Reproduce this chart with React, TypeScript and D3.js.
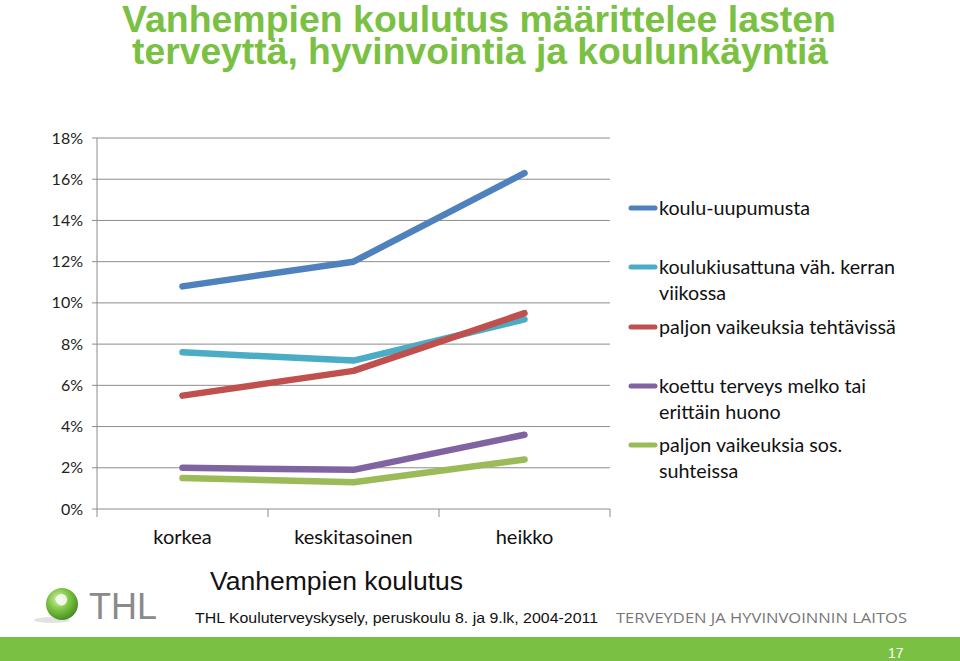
import React from "react";
import * as d3 from "d3";

const categories = ["korkea", "keskitasoinen", "heikko"];
const seriesNames = [
  ["koulu-uupumusta"],
  ["koulukiusattuna väh. kerran", "viikossa"],
  ["paljon vaikeuksia tehtävissä"],
  ["koettu terveys melko tai", "erittäin huono"],
  ["paljon vaikeuksia sos.", "suhteissa"],
];
const seriesColors = ["#4F81BD", "#4BACC6", "#C0504D", "#8064A2", "#9BBB59"];
const koulUupumus = [10.8, 12.0, 16.3];
const kiusattu = [7.6, 7.2, 9.2];
const tehtavat = [5.5, 6.7, 9.5];
const terveys = [2.0, 1.9, 3.6];
const sosSuhteet = [1.5, 1.3, 2.4];
const seriesValues = [koulUupumus, kiusattu, tehtavat, terveys, sosSuhteet];
const yTicks = [0, 2, 4, 6, 8, 10, 12, 14, 16, 18];
const legendY = [208, 267, 327, 386, 445];

const W = 960;
const H = 661;

export default function App() {
  const x = d3.scaleBand<string>().domain(categories).range([97, 610]);
  const y = d3.scaleLinear().domain([0, 18]).range([509, 138]);
  const cx = (i: number) => (x(categories[i]) as number) + x.bandwidth() / 2;
  const line = d3
    .line<number>()
    .x((_, i) => cx(i))
    .y((d) => y(d));
  const boundaries = [...categories.map((c) => x(c) as number), 610];
  const green = "#7AC143";
  const grid = "#8C8C8C";
  const labelFont = "Lato, 'Open Sans', sans-serif";
  const narrow = "'Liberation Sans Narrow', 'Liberation Sans', Arial, sans-serif";

  return (
    <div style={{ position: "fixed", left: 0, top: 0, width: W, height: H, background: "#fff" }}>
      <svg width={W} height={H} style={{ display: "block" }}>
        <rect x={0} y={0} width={W} height={H} fill="#fff" />
        {/* Title */}
        <g fontFamily={narrow} fontWeight="bold" fill={green} fontSize={36}>
          <text x={122} y={32} textLength={714} lengthAdjust="spacingAndGlyphs">
            Vanhempien koulutus määrittelee lasten
          </text>
          <text x={132} y={64} textLength={696} lengthAdjust="spacingAndGlyphs">
            terveyttä, hyvinvointia ja koulunkäyntiä
          </text>
        </g>

        {/* gridlines */}
        {yTicks.map((t) => (
          <line key={t} x1={92} x2={610} y1={y(t)} y2={y(t)} stroke={grid} strokeWidth={1} />
        ))}
        <line x1={97} x2={97} y1={138} y2={509} stroke={grid} strokeWidth={1} />
        {boundaries.map((b, i) => (
          <line key={i} x1={b} x2={b} y1={509} y2={517} stroke={grid} strokeWidth={1} />
        ))}
        {yTicks.map((t) => (
          <text key={t} x={83} y={y(t) + 5.5} textAnchor="end" fontFamily={labelFont} fontSize={16} fill="#222">
            {d3.format(".0%")(t / 100)}
          </text>
        ))}
        {categories.map((c, i) => (
          <text key={c} x={cx(i)} y={544} textAnchor="middle" fontFamily={labelFont} fontSize={20} fill="#111">
            {c}
          </text>
        ))}

        {/* series */}
        {seriesValues.map((vals, i) => (
          <path key={i} d={line(vals) || ""} fill="none" stroke={seriesColors[i]} strokeWidth={6.5} strokeLinecap="round" strokeLinejoin="round" />
        ))}

        {/* legend */}
        {seriesNames.map((lines, i) => (
          <g key={i}>
            <line x1={631} x2={655} y1={legendY[i]} y2={legendY[i]} stroke={seriesColors[i]} strokeWidth={5} strokeLinecap="round" />
            {lines.map((l, j) => (
              <text key={j} x={659} y={legendY[i] + 6.5 + j * 26} fontFamily={labelFont} fontSize={19.7} fill="#111">
                {l}
              </text>
            ))}
          </g>
        ))}

        {/* footer */}
        <text x={210} y={590} fontFamily="'Liberation Sans', Arial, sans-serif" fontSize={25} fill="#111" textLength={253} lengthAdjust="spacingAndGlyphs">
          Vanhempien koulutus
        </text>
        <text x={195} y={623} fontFamily={narrow} fontSize={15} fill="#111" textLength={403} lengthAdjust="spacingAndGlyphs">
          THL Kouluterveyskysely, peruskoulu 8. ja 9.lk, 2004-2011
        </text>
        <text x={616} y={623} fontFamily="'Open Sans', sans-serif" fontSize={14} fill="#777" textLength={291} lengthAdjust="spacingAndGlyphs">
          TERVEYDEN JA HYVINVOINNIN LAITOS
        </text>

        {/* logo */}
        <defs>
          <radialGradient id="sph" cx="0.4" cy="0.35" r="0.7">
            <stop offset="0" stopColor="#D8F2B0" />
            <stop offset="0.5" stopColor="#7CC242" />
            <stop offset="1" stopColor="#3E8A1E" />
          </radialGradient>
        </defs>
        <ellipse cx={52} cy={620} rx={18} ry={3} fill="#d5d5d5" opacity={0.7} />
        <circle cx={62} cy={604} r={16} fill="url(#sph)" />
        <path d="M55,599 C58,591 68,593 67,601 C65,607 58,608 55,599 Z" fill="#fff" opacity={0.8} />
        <text x={89} y={619} fontFamily={narrow} fontSize={37} fill="#8A8A8A" textLength={68} lengthAdjust="spacingAndGlyphs">
          THL
        </text>

        <rect x={0} y={637} width={W} height={24} fill={green} />
        <text x={888} y={658} fontFamily={narrow} fontSize={14} fill="#fff">
          17
        </text>
      </svg>
    </div>
  );
}
